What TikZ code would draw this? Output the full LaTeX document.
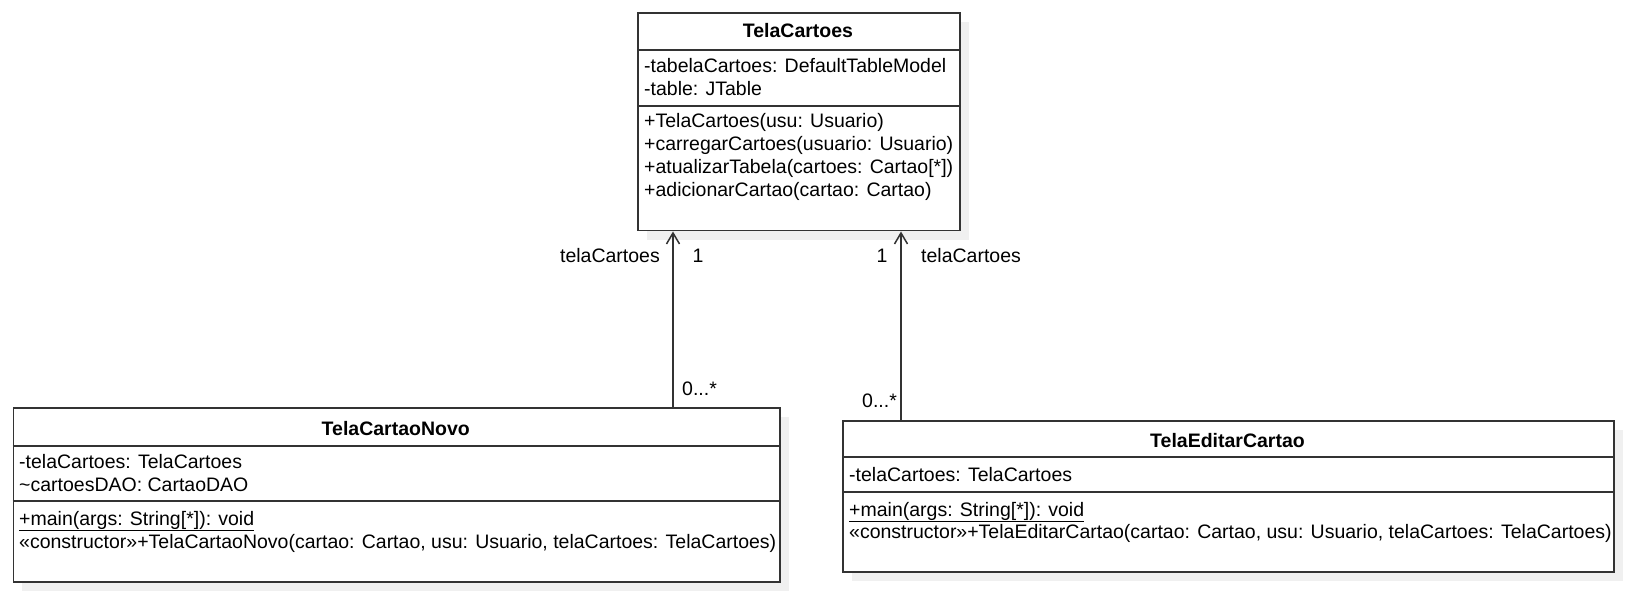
\documentclass[tikz,border=0pt]{standalone}
\usepackage{fontspec}
\setmainfont{Liberation Sans}
\usetikzlibrary{positioning, shadows, arrows.meta}

\tikzset{
  classbox/.style={draw=black!80, line width=1.5pt, fill=white, anchor=north west, inner sep=0pt,
    general shadow={fill=black!6, shadow xshift=9pt, shadow yshift=-9pt}},
  sep/.style={draw=black!80, line width=1.5pt},
  classname/.style={font=\fontsize{19.5}{23}\selectfont\bfseries, inner sep=0pt, text height=14pt, text depth=0pt},
  member/.style={anchor=west, inner sep=0pt, text height=14pt, text depth=0pt},
  mult/.style={inner sep=0pt, text height=14pt, text depth=0pt},
  assoc/.style={draw=black!80, line width=1.5pt, -{Straight Barb[length=11pt, width=13pt, line width=1.5pt]}},
}

\begin{document}
\begin{tikzpicture}[x=1pt, y=-1pt, font=\fontsize{19.5}{23}\selectfont]
  \useasboundingbox (0,0) rectangle (1634,596);

  % TelaCartoes
  \node[classbox, minimum width=322pt, minimum height=217.5pt] (cartoes) at (637,12.5) {};
  \node[classname] (cartoesName) at (798,31) {TelaCartoes};
  \draw[sep] (637,50) -- (959,50);
  \draw[sep] (637,106) -- (959,106);
  \foreach \t [count=\i] in {{-tabelaCartoes: DefaultTableModel},{-table: JTable}}
    \node[member] (cartoesAttr\i) at (644,{43+23*\i}) {\t};
  \foreach \t [count=\i] in {{+TelaCartoes(usu: Usuario)},{+carregarCartoes(usuario: Usuario)},
      {+atualizarTabela(cartoes: Cartao[*])},{+adicionarCartao(cartao: Cartao)}}
    \node[member] (cartoesOp\i) at (644,{98+23*\i}) {\t};

  % TelaCartaoNovo
  \node[classbox, minimum width=766.5pt, minimum height=174pt] (novo) at (12.5,407) {};
  \node[classname] (novoName) at (395.75,428) {TelaCartaoNovo};
  \draw[sep] (12.5,446) -- (779,446);
  \draw[sep] (12.5,501) -- (779,501);
  \foreach \t [count=\i] in {{-telaCartoes: TelaCartoes},{\textasciitilde cartoesDAO: CartaoDAO}}
    \node[member] (novoAttr\i) at (19,{438+23*\i}) {\t};
  \node[member] (novoOp1) at (19,518) {\underline{+main(args: String[*]): void}};
  \node[member] (novoOp2) at (19,541) {«constructor»+TelaCartaoNovo(cartao: Cartao, usu: Usuario, telaCartoes: TelaCartoes)};

  % TelaEditarCartao
  \node[classbox, minimum width=771pt, minimum height=151pt] (editar) at (842,420) {};
  \node[classname] (editarName) at (1227.5,440) {TelaEditarCartao};
  \draw[sep] (842,457) -- (1613,457);
  \draw[sep] (842,492) -- (1613,492);
  \node[member] (editarAttr1) at (849,474) {-telaCartoes: TelaCartoes};
  \node[member] (editarOp1) at (849,509) {\underline{+main(args: String[*]): void}};
  \node[member] (editarOp2) at (849,531) {«constructor»+TelaEditarCartao(cartao: Cartao, usu: Usuario, telaCartoes: TelaCartoes)};

  % associations
  \coordinate (aL) at (673,0);
  \coordinate (aR) at (901,0);
  \draw[assoc] (novo.north -| aL) -- (cartoes.south -| aL);
  \draw[assoc] (editar.north -| aR) -- (cartoes.south -| aR);

  \node[mult, anchor=east] (roleL) at (660,256) {telaCartoes};
  \node[mult] (oneL) at (698,256) {1};
  \node[mult] (oneR) at (882,256) {1};
  \node[mult, anchor=west] (roleR) at (921,256) {telaCartoes};
  \node[mult, anchor=west] (manyL) at (682,388) {0...*};
  \node[mult, anchor=west] (manyR) at (862,400) {0...*};
\end{tikzpicture}
\end{document}
